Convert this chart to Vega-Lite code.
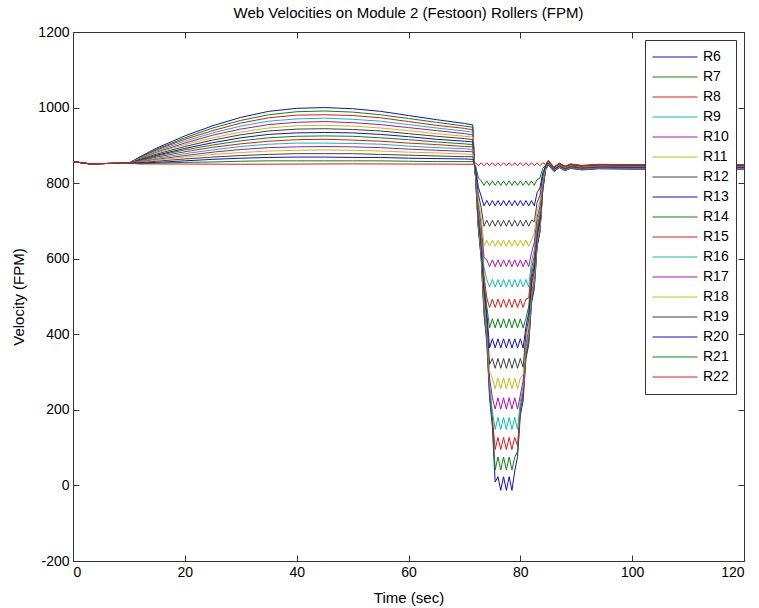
{
"$schema":"https://vega.github.io/schema/vega-lite/v6.json",
"width":671,"height":529,
"autosize":{"type":"none"},
"padding":{"left":73,"top":32,"right":15,"bottom":47},
"background":"white",
"config":{"font":"Liberation Sans","view":{"stroke":"#333","strokeWidth":1},
"axis":{"grid":false,"domain":false,"tickSize":-6,"tickColor":"#333","labelPadding":10,"labelFontSize":14,"labelColor":"black","titleFontSize":15,"titleFontWeight":"normal","titleColor":"black"}},
"title":{"text":"Web Velocities on Module 2 (Festoon) Rollers (FPM)","fontSize":15,"fontWeight":"normal","color":"black","anchor":"middle","offset":4},
"data":{"values":[
{"t":0,"k":"R6","v":857},{"t":3,"k":"R6","v":851},{"t":6,"k":"R6","v":852},{"t":10,"k":"R6","v":853},
{"t":12,"k":"R6","v":870},{"t":15,"k":"R6","v":893},{"t":20,"k":"R6","v":925},{"t":25,"k":"R6","v":952},{"t":30,"k":"R6","v":974},{"t":35,"k":"R6","v":990},{"t":40,"k":"R6","v":998},{"t":45,"k":"R6","v":1000},{"t":50,"k":"R6","v":997},{"t":55,"k":"R6","v":990},{"t":60,"k":"R6","v":979},{"t":65,"k":"R6","v":968},{"t":70,"k":"R6","v":958},{"t":71.5,"k":"R6","v":954},{"t":71.8,"k":"R6","v":850},
{"t":72,"k":"R6","v":814},{"t":72.5,"k":"R6","v":676},{"t":73,"k":"R6","v":601},{"t":73.5,"k":"R6","v":454},{"t":74,"k":"R6","v":379},{"t":74.5,"k":"R6","v":232},{"t":75,"k":"R6","v":156},{"t":75.5,"k":"R6","v":9},{"t":76,"k":"R6","v":23},{"t":76.5,"k":"R6","v":-13},{"t":77,"k":"R6","v":23},{"t":77.5,"k":"R6","v":-13},{"t":78,"k":"R6","v":23},{"t":78.5,"k":"R6","v":-13},{"t":79,"k":"R6","v":38},{"t":79.5,"k":"R6","v":76},{"t":80,"k":"R6","v":186},{"t":80.5,"k":"R6","v":224},{"t":81,"k":"R6","v":335},{"t":81.5,"k":"R6","v":373},{"t":82,"k":"R6","v":483},{"t":82.5,"k":"R6","v":521},{"t":83,"k":"R6","v":631},{"t":83.5,"k":"R6","v":669},{"t":84,"k":"R6","v":779},{"t":84.5,"k":"R6","v":835},
{"t":85,"k":"R6","v":848},{"t":86,"k":"R6","v":831},{"t":87,"k":"R6","v":841},{"t":88,"k":"R6","v":833},{"t":89,"k":"R6","v":839},{"t":91,"k":"R6","v":835},{"t":94,"k":"R6","v":838},{"t":100,"k":"R6","v":837},{"t":120,"k":"R6","v":837},

{"t":0,"k":"R7","v":857},{"t":3,"k":"R7","v":851},{"t":6,"k":"R7","v":852},{"t":10,"k":"R7","v":853},
{"t":12,"k":"R7","v":869},{"t":15,"k":"R7","v":890},{"t":20,"k":"R7","v":920},{"t":25,"k":"R7","v":946},{"t":30,"k":"R7","v":966},{"t":35,"k":"R7","v":981},{"t":40,"k":"R7","v":989},{"t":45,"k":"R7","v":991},{"t":50,"k":"R7","v":988},{"t":55,"k":"R7","v":981},{"t":60,"k":"R7","v":971},{"t":65,"k":"R7","v":961},{"t":70,"k":"R7","v":951},{"t":71.5,"k":"R7","v":948},{"t":71.8,"k":"R7","v":850},
{"t":72,"k":"R7","v":814},{"t":72.5,"k":"R7","v":680},{"t":73,"k":"R7","v":604},{"t":73.5,"k":"R7","v":461},{"t":74,"k":"R7","v":386},{"t":74.5,"k":"R7","v":242},{"t":75,"k":"R7","v":167},{"t":75.5,"k":"R7","v":41},{"t":76,"k":"R7","v":75},{"t":76.5,"k":"R7","v":41},{"t":77,"k":"R7","v":75},{"t":77.5,"k":"R7","v":41},{"t":78,"k":"R7","v":75},{"t":78.5,"k":"R7","v":41},{"t":79,"k":"R7","v":75},{"t":79.5,"k":"R7","v":90},{"t":80,"k":"R7","v":197},{"t":80.5,"k":"R7","v":236},{"t":81,"k":"R7","v":343},{"t":81.5,"k":"R7","v":382},{"t":82,"k":"R7","v":488},{"t":82.5,"k":"R7","v":527},{"t":83,"k":"R7","v":634},{"t":83.5,"k":"R7","v":673},{"t":84,"k":"R7","v":780},{"t":84.5,"k":"R7","v":835},
{"t":85,"k":"R7","v":849},{"t":86,"k":"R7","v":832},{"t":87,"k":"R7","v":842},{"t":88,"k":"R7","v":834},{"t":89,"k":"R7","v":840},{"t":91,"k":"R7","v":836},{"t":94,"k":"R7","v":839},{"t":100,"k":"R7","v":838},{"t":120,"k":"R7","v":838},

{"t":0,"k":"R8","v":857},{"t":3,"k":"R8","v":851},{"t":6,"k":"R8","v":852},{"t":10,"k":"R8","v":853},
{"t":12,"k":"R8","v":868},{"t":15,"k":"R8","v":888},{"t":20,"k":"R8","v":916},{"t":25,"k":"R8","v":939},{"t":30,"k":"R8","v":959},{"t":35,"k":"R8","v":973},{"t":40,"k":"R8","v":980},{"t":45,"k":"R8","v":981},{"t":50,"k":"R8","v":979},{"t":55,"k":"R8","v":973},{"t":60,"k":"R8","v":963},{"t":65,"k":"R8","v":953},{"t":70,"k":"R8","v":945},{"t":71.5,"k":"R8","v":941},{"t":71.8,"k":"R8","v":850},
{"t":72,"k":"R8","v":815},{"t":72.5,"k":"R8","v":684},{"t":73,"k":"R8","v":609},{"t":73.5,"k":"R8","v":470},{"t":74,"k":"R8","v":395},{"t":74.5,"k":"R8","v":256},{"t":75,"k":"R8","v":181},{"t":75.5,"k":"R8","v":95},{"t":76,"k":"R8","v":127},{"t":76.5,"k":"R8","v":95},{"t":77,"k":"R8","v":127},{"t":77.5,"k":"R8","v":95},{"t":78,"k":"R8","v":127},{"t":78.5,"k":"R8","v":95},{"t":79,"k":"R8","v":127},{"t":79.5,"k":"R8","v":105},{"t":80,"k":"R8","v":209},{"t":80.5,"k":"R8","v":248},{"t":81,"k":"R8","v":352},{"t":81.5,"k":"R8","v":391},{"t":82,"k":"R8","v":495},{"t":82.5,"k":"R8","v":534},{"t":83,"k":"R8","v":637},{"t":83.5,"k":"R8","v":677},{"t":84,"k":"R8","v":780},{"t":84.5,"k":"R8","v":836},
{"t":85,"k":"R8","v":850},{"t":86,"k":"R8","v":833},{"t":87,"k":"R8","v":843},{"t":88,"k":"R8","v":835},{"t":89,"k":"R8","v":841},{"t":91,"k":"R8","v":837},{"t":94,"k":"R8","v":840},{"t":100,"k":"R8","v":839},{"t":120,"k":"R8","v":839},

{"t":0,"k":"R9","v":857},{"t":3,"k":"R9","v":851},{"t":6,"k":"R9","v":852},{"t":10,"k":"R9","v":853},
{"t":12,"k":"R9","v":866},{"t":15,"k":"R9","v":885},{"t":20,"k":"R9","v":911},{"t":25,"k":"R9","v":933},{"t":30,"k":"R9","v":951},{"t":35,"k":"R9","v":964},{"t":40,"k":"R9","v":970},{"t":45,"k":"R9","v":972},{"t":50,"k":"R9","v":969},{"t":55,"k":"R9","v":964},{"t":60,"k":"R9","v":955},{"t":65,"k":"R9","v":946},{"t":70,"k":"R9","v":938},{"t":71.5,"k":"R9","v":935},{"t":71.8,"k":"R9","v":850},
{"t":72,"k":"R9","v":816},{"t":72.5,"k":"R9","v":687},{"t":73,"k":"R9","v":614},{"t":73.5,"k":"R9","v":477},{"t":74,"k":"R9","v":404},{"t":74.5,"k":"R9","v":268},{"t":75,"k":"R9","v":195},{"t":75.5,"k":"R9","v":148},{"t":76,"k":"R9","v":180},{"t":76.5,"k":"R9","v":148},{"t":77,"k":"R9","v":180},{"t":77.5,"k":"R9","v":148},{"t":78,"k":"R9","v":180},{"t":78.5,"k":"R9","v":148},{"t":79,"k":"R9","v":180},{"t":79.5,"k":"R9","v":148},{"t":80,"k":"R9","v":223},{"t":80.5,"k":"R9","v":261},{"t":81,"k":"R9","v":363},{"t":81.5,"k":"R9","v":401},{"t":82,"k":"R9","v":503},{"t":82.5,"k":"R9","v":541},{"t":83,"k":"R9","v":643},{"t":83.5,"k":"R9","v":680},{"t":84,"k":"R9","v":782},{"t":84.5,"k":"R9","v":836},
{"t":85,"k":"R9","v":850},{"t":86,"k":"R9","v":833},{"t":87,"k":"R9","v":843},{"t":88,"k":"R9","v":835},{"t":89,"k":"R9","v":841},{"t":91,"k":"R9","v":837},{"t":94,"k":"R9","v":840},{"t":100,"k":"R9","v":839},{"t":120,"k":"R9","v":839},

{"t":0,"k":"R10","v":857},{"t":3,"k":"R10","v":851},{"t":6,"k":"R10","v":852},{"t":10,"k":"R10","v":853},
{"t":12,"k":"R10","v":865},{"t":15,"k":"R10","v":882},{"t":20,"k":"R10","v":906},{"t":25,"k":"R10","v":927},{"t":30,"k":"R10","v":943},{"t":35,"k":"R10","v":955},{"t":40,"k":"R10","v":961},{"t":45,"k":"R10","v":963},{"t":50,"k":"R10","v":960},{"t":55,"k":"R10","v":955},{"t":60,"k":"R10","v":947},{"t":65,"k":"R10","v":939},{"t":70,"k":"R10","v":931},{"t":71.5,"k":"R10","v":928},{"t":71.8,"k":"R10","v":850},
{"t":72,"k":"R10","v":817},{"t":72.5,"k":"R10","v":692},{"t":73,"k":"R10","v":620},{"t":73.5,"k":"R10","v":488},{"t":74,"k":"R10","v":416},{"t":74.5,"k":"R10","v":284},{"t":75,"k":"R10","v":232},{"t":75.5,"k":"R10","v":202},{"t":76,"k":"R10","v":232},{"t":76.5,"k":"R10","v":202},{"t":77,"k":"R10","v":232},{"t":77.5,"k":"R10","v":202},{"t":78,"k":"R10","v":232},{"t":78.5,"k":"R10","v":202},{"t":79,"k":"R10","v":232},{"t":79.5,"k":"R10","v":202},{"t":80,"k":"R10","v":239},{"t":80.5,"k":"R10","v":277},{"t":81,"k":"R10","v":375},{"t":81.5,"k":"R10","v":413},{"t":82,"k":"R10","v":511},{"t":82.5,"k":"R10","v":549},{"t":83,"k":"R10","v":647},{"t":83.5,"k":"R10","v":685},{"t":84,"k":"R10","v":783},{"t":84.5,"k":"R10","v":836},
{"t":85,"k":"R10","v":851},{"t":86,"k":"R10","v":834},{"t":87,"k":"R10","v":844},{"t":88,"k":"R10","v":836},{"t":89,"k":"R10","v":842},{"t":91,"k":"R10","v":838},{"t":94,"k":"R10","v":841},{"t":100,"k":"R10","v":840},{"t":120,"k":"R10","v":840},

{"t":0,"k":"R11","v":857},{"t":3,"k":"R11","v":851},{"t":6,"k":"R11","v":852},{"t":10,"k":"R11","v":853},
{"t":12,"k":"R11","v":864},{"t":15,"k":"R11","v":880},{"t":20,"k":"R11","v":902},{"t":25,"k":"R11","v":920},{"t":30,"k":"R11","v":935},{"t":35,"k":"R11","v":946},{"t":40,"k":"R11","v":952},{"t":45,"k":"R11","v":953},{"t":50,"k":"R11","v":951},{"t":55,"k":"R11","v":946},{"t":60,"k":"R11","v":939},{"t":65,"k":"R11","v":931},{"t":70,"k":"R11","v":924},{"t":71.5,"k":"R11","v":922},{"t":71.8,"k":"R11","v":850},
{"t":72,"k":"R11","v":817},{"t":72.5,"k":"R11","v":697},{"t":73,"k":"R11","v":626},{"t":73.5,"k":"R11","v":498},{"t":74,"k":"R11","v":427},{"t":74.5,"k":"R11","v":300},{"t":75,"k":"R11","v":284},{"t":75.5,"k":"R11","v":256},{"t":76,"k":"R11","v":284},{"t":76.5,"k":"R11","v":256},{"t":77,"k":"R11","v":284},{"t":77.5,"k":"R11","v":256},{"t":78,"k":"R11","v":284},{"t":78.5,"k":"R11","v":256},{"t":79,"k":"R11","v":284},{"t":79.5,"k":"R11","v":256},{"t":80,"k":"R11","v":284},{"t":80.5,"k":"R11","v":293},{"t":81,"k":"R11","v":387},{"t":81.5,"k":"R11","v":426},{"t":82,"k":"R11","v":520},{"t":82.5,"k":"R11","v":558},{"t":83,"k":"R11","v":652},{"t":83.5,"k":"R11","v":690},{"t":84,"k":"R11","v":785},{"t":84.5,"k":"R11","v":837},
{"t":85,"k":"R11","v":852},{"t":86,"k":"R11","v":835},{"t":87,"k":"R11","v":845},{"t":88,"k":"R11","v":837},{"t":89,"k":"R11","v":843},{"t":91,"k":"R11","v":839},{"t":94,"k":"R11","v":842},{"t":100,"k":"R11","v":841},{"t":120,"k":"R11","v":841},

{"t":0,"k":"R12","v":857},{"t":3,"k":"R12","v":851},{"t":6,"k":"R12","v":852},{"t":10,"k":"R12","v":853},
{"t":12,"k":"R12","v":863},{"t":15,"k":"R12","v":877},{"t":20,"k":"R12","v":897},{"t":25,"k":"R12","v":914},{"t":30,"k":"R12","v":928},{"t":35,"k":"R12","v":938},{"t":40,"k":"R12","v":943},{"t":45,"k":"R12","v":944},{"t":50,"k":"R12","v":942},{"t":55,"k":"R12","v":938},{"t":60,"k":"R12","v":931},{"t":65,"k":"R12","v":924},{"t":70,"k":"R12","v":918},{"t":71.5,"k":"R12","v":915},{"t":71.8,"k":"R12","v":850},
{"t":72,"k":"R12","v":819},{"t":72.5,"k":"R12","v":703},{"t":73,"k":"R12","v":633},{"t":73.5,"k":"R12","v":511},{"t":74,"k":"R12","v":442},{"t":74.5,"k":"R12","v":320},{"t":75,"k":"R12","v":336},{"t":75.5,"k":"R12","v":310},{"t":76,"k":"R12","v":336},{"t":76.5,"k":"R12","v":310},{"t":77,"k":"R12","v":336},{"t":77.5,"k":"R12","v":310},{"t":78,"k":"R12","v":336},{"t":78.5,"k":"R12","v":310},{"t":79,"k":"R12","v":336},{"t":79.5,"k":"R12","v":310},{"t":80,"k":"R12","v":336},{"t":80.5,"k":"R12","v":313},{"t":81,"k":"R12","v":403},{"t":81.5,"k":"R12","v":441},{"t":82,"k":"R12","v":531},{"t":82.5,"k":"R12","v":568},{"t":83,"k":"R12","v":658},{"t":83.5,"k":"R12","v":696},{"t":84,"k":"R12","v":786},{"t":84.5,"k":"R12","v":837},
{"t":85,"k":"R12","v":853},{"t":86,"k":"R12","v":836},{"t":87,"k":"R12","v":846},{"t":88,"k":"R12","v":838},{"t":89,"k":"R12","v":844},{"t":91,"k":"R12","v":840},{"t":94,"k":"R12","v":843},{"t":100,"k":"R12","v":842},{"t":120,"k":"R12","v":842},

{"t":0,"k":"R13","v":857},{"t":3,"k":"R13","v":851},{"t":6,"k":"R13","v":852},{"t":10,"k":"R13","v":853},
{"t":12,"k":"R13","v":861},{"t":15,"k":"R13","v":874},{"t":20,"k":"R13","v":892},{"t":25,"k":"R13","v":907},{"t":30,"k":"R13","v":920},{"t":35,"k":"R13","v":929},{"t":40,"k":"R13","v":933},{"t":45,"k":"R13","v":934},{"t":50,"k":"R13","v":933},{"t":55,"k":"R13","v":929},{"t":60,"k":"R13","v":923},{"t":65,"k":"R13","v":916},{"t":70,"k":"R13","v":911},{"t":71.5,"k":"R13","v":909},{"t":71.8,"k":"R13","v":850},
{"t":72,"k":"R13","v":819},{"t":72.5,"k":"R13","v":709},{"t":73,"k":"R13","v":641},{"t":73.5,"k":"R13","v":525},{"t":74,"k":"R13","v":456},{"t":74.5,"k":"R13","v":364},{"t":75,"k":"R13","v":388},{"t":75.5,"k":"R13","v":364},{"t":76,"k":"R13","v":388},{"t":76.5,"k":"R13","v":364},{"t":77,"k":"R13","v":388},{"t":77.5,"k":"R13","v":364},{"t":78,"k":"R13","v":388},{"t":78.5,"k":"R13","v":364},{"t":79,"k":"R13","v":388},{"t":79.5,"k":"R13","v":364},{"t":80,"k":"R13","v":388},{"t":80.5,"k":"R13","v":364},{"t":81,"k":"R13","v":420},{"t":81.5,"k":"R13","v":457},{"t":82,"k":"R13","v":543},{"t":82.5,"k":"R13","v":580},{"t":83,"k":"R13","v":666},{"t":83.5,"k":"R13","v":703},{"t":84,"k":"R13","v":788},{"t":84.5,"k":"R13","v":838},
{"t":85,"k":"R13","v":853},{"t":86,"k":"R13","v":836},{"t":87,"k":"R13","v":846},{"t":88,"k":"R13","v":838},{"t":89,"k":"R13","v":844},{"t":91,"k":"R13","v":840},{"t":94,"k":"R13","v":843},{"t":100,"k":"R13","v":842},{"t":120,"k":"R13","v":842},

{"t":0,"k":"R14","v":857},{"t":3,"k":"R14","v":851},{"t":6,"k":"R14","v":852},{"t":10,"k":"R14","v":853},
{"t":12,"k":"R14","v":860},{"t":15,"k":"R14","v":872},{"t":20,"k":"R14","v":888},{"t":25,"k":"R14","v":901},{"t":30,"k":"R14","v":912},{"t":35,"k":"R14","v":920},{"t":40,"k":"R14","v":924},{"t":45,"k":"R14","v":925},{"t":50,"k":"R14","v":924},{"t":55,"k":"R14","v":920},{"t":60,"k":"R14","v":915},{"t":65,"k":"R14","v":909},{"t":70,"k":"R14","v":904},{"t":71.5,"k":"R14","v":902},{"t":71.8,"k":"R14","v":850},
{"t":72,"k":"R14","v":821},{"t":72.5,"k":"R14","v":715},{"t":73,"k":"R14","v":651},{"t":73.5,"k":"R14","v":539},{"t":74,"k":"R14","v":474},{"t":74.5,"k":"R14","v":417},{"t":75,"k":"R14","v":441},{"t":75.5,"k":"R14","v":417},{"t":76,"k":"R14","v":441},{"t":76.5,"k":"R14","v":417},{"t":77,"k":"R14","v":441},{"t":77.5,"k":"R14","v":417},{"t":78,"k":"R14","v":441},{"t":78.5,"k":"R14","v":417},{"t":79,"k":"R14","v":441},{"t":79.5,"k":"R14","v":417},{"t":80,"k":"R14","v":441},{"t":80.5,"k":"R14","v":417},{"t":81,"k":"R14","v":441},{"t":81.5,"k":"R14","v":474},{"t":82,"k":"R14","v":557},{"t":82.5,"k":"R14","v":592},{"t":83,"k":"R14","v":674},{"t":83.5,"k":"R14","v":709},{"t":84,"k":"R14","v":792},{"t":84.5,"k":"R14","v":838},
{"t":85,"k":"R14","v":854},{"t":86,"k":"R14","v":837},{"t":87,"k":"R14","v":847},{"t":88,"k":"R14","v":839},{"t":89,"k":"R14","v":845},{"t":91,"k":"R14","v":841},{"t":94,"k":"R14","v":844},{"t":100,"k":"R14","v":843},{"t":120,"k":"R14","v":843},

{"t":0,"k":"R15","v":857},{"t":3,"k":"R15","v":851},{"t":6,"k":"R15","v":852},{"t":10,"k":"R15","v":853},
{"t":12,"k":"R15","v":859},{"t":15,"k":"R15","v":869},{"t":20,"k":"R15","v":883},{"t":25,"k":"R15","v":895},{"t":30,"k":"R15","v":904},{"t":35,"k":"R15","v":911},{"t":40,"k":"R15","v":915},{"t":45,"k":"R15","v":916},{"t":50,"k":"R15","v":914},{"t":55,"k":"R15","v":911},{"t":60,"k":"R15","v":906},{"t":65,"k":"R15","v":902},{"t":70,"k":"R15","v":897},{"t":71.5,"k":"R15","v":896},{"t":71.8,"k":"R15","v":850},
{"t":72,"k":"R15","v":823},{"t":72.5,"k":"R15","v":723},{"t":73,"k":"R15","v":662},{"t":73.5,"k":"R15","v":557},{"t":74,"k":"R15","v":496},{"t":74.5,"k":"R15","v":471},{"t":75,"k":"R15","v":493},{"t":75.5,"k":"R15","v":471},{"t":76,"k":"R15","v":493},{"t":76.5,"k":"R15","v":471},{"t":77,"k":"R15","v":493},{"t":77.5,"k":"R15","v":471},{"t":78,"k":"R15","v":493},{"t":78.5,"k":"R15","v":471},{"t":79,"k":"R15","v":493},{"t":79.5,"k":"R15","v":471},{"t":80,"k":"R15","v":493},{"t":80.5,"k":"R15","v":471},{"t":81,"k":"R15","v":493},{"t":81.5,"k":"R15","v":496},{"t":82,"k":"R15","v":574},{"t":82.5,"k":"R15","v":607},{"t":83,"k":"R15","v":684},{"t":83.5,"k":"R15","v":717},{"t":84,"k":"R15","v":795},{"t":84.5,"k":"R15","v":839},
{"t":85,"k":"R15","v":855},{"t":86,"k":"R15","v":838},{"t":87,"k":"R15","v":848},{"t":88,"k":"R15","v":840},{"t":89,"k":"R15","v":846},{"t":91,"k":"R15","v":842},{"t":94,"k":"R15","v":845},{"t":100,"k":"R15","v":844},{"t":120,"k":"R15","v":844},

{"t":0,"k":"R16","v":857},{"t":3,"k":"R16","v":851},{"t":6,"k":"R16","v":852},{"t":10,"k":"R16","v":853},
{"t":12,"k":"R16","v":858},{"t":15,"k":"R16","v":866},{"t":20,"k":"R16","v":878},{"t":25,"k":"R16","v":888},{"t":30,"k":"R16","v":897},{"t":35,"k":"R16","v":903},{"t":40,"k":"R16","v":906},{"t":45,"k":"R16","v":906},{"t":50,"k":"R16","v":905},{"t":55,"k":"R16","v":903},{"t":60,"k":"R16","v":898},{"t":65,"k":"R16","v":894},{"t":70,"k":"R16","v":891},{"t":71.5,"k":"R16","v":889},{"t":71.8,"k":"R16","v":850},
{"t":72,"k":"R16","v":824},{"t":72.5,"k":"R16","v":732},{"t":73,"k":"R16","v":675},{"t":73.5,"k":"R16","v":578},{"t":74,"k":"R16","v":545},{"t":74.5,"k":"R16","v":525},{"t":75,"k":"R16","v":545},{"t":75.5,"k":"R16","v":525},{"t":76,"k":"R16","v":545},{"t":76.5,"k":"R16","v":525},{"t":77,"k":"R16","v":545},{"t":77.5,"k":"R16","v":525},{"t":78,"k":"R16","v":545},{"t":78.5,"k":"R16","v":525},{"t":79,"k":"R16","v":545},{"t":79.5,"k":"R16","v":525},{"t":80,"k":"R16","v":545},{"t":80.5,"k":"R16","v":525},{"t":81,"k":"R16","v":545},{"t":81.5,"k":"R16","v":525},{"t":82,"k":"R16","v":593},{"t":82.5,"k":"R16","v":625},{"t":83,"k":"R16","v":696},{"t":83.5,"k":"R16","v":727},{"t":84,"k":"R16","v":798},{"t":84.5,"k":"R16","v":840},
{"t":85,"k":"R16","v":856},{"t":86,"k":"R16","v":839},{"t":87,"k":"R16","v":849},{"t":88,"k":"R16","v":841},{"t":89,"k":"R16","v":847},{"t":91,"k":"R16","v":843},{"t":94,"k":"R16","v":846},{"t":100,"k":"R16","v":845},{"t":120,"k":"R16","v":845},

{"t":0,"k":"R17","v":857},{"t":3,"k":"R17","v":851},{"t":6,"k":"R17","v":852},{"t":10,"k":"R17","v":853},
{"t":12,"k":"R17","v":856},{"t":15,"k":"R17","v":863},{"t":20,"k":"R17","v":873},{"t":25,"k":"R17","v":882},{"t":30,"k":"R17","v":889},{"t":35,"k":"R17","v":894},{"t":40,"k":"R17","v":896},{"t":45,"k":"R17","v":897},{"t":50,"k":"R17","v":896},{"t":55,"k":"R17","v":894},{"t":60,"k":"R17","v":890},{"t":65,"k":"R17","v":887},{"t":70,"k":"R17","v":884},{"t":71.5,"k":"R17","v":883},{"t":71.8,"k":"R17","v":850},
{"t":72,"k":"R17","v":827},{"t":72.5,"k":"R17","v":743},{"t":73,"k":"R17","v":691},{"t":73.5,"k":"R17","v":603},{"t":74,"k":"R17","v":597},{"t":74.5,"k":"R17","v":579},{"t":75,"k":"R17","v":597},{"t":75.5,"k":"R17","v":579},{"t":76,"k":"R17","v":597},{"t":76.5,"k":"R17","v":579},{"t":77,"k":"R17","v":597},{"t":77.5,"k":"R17","v":579},{"t":78,"k":"R17","v":597},{"t":78.5,"k":"R17","v":579},{"t":79,"k":"R17","v":597},{"t":79.5,"k":"R17","v":579},{"t":80,"k":"R17","v":597},{"t":80.5,"k":"R17","v":579},{"t":81,"k":"R17","v":597},{"t":81.5,"k":"R17","v":579},{"t":82,"k":"R17","v":616},{"t":82.5,"k":"R17","v":644},{"t":83,"k":"R17","v":709},{"t":83.5,"k":"R17","v":738},{"t":84,"k":"R17","v":803},{"t":84.5,"k":"R17","v":841},
{"t":85,"k":"R17","v":856},{"t":86,"k":"R17","v":839},{"t":87,"k":"R17","v":849},{"t":88,"k":"R17","v":841},{"t":89,"k":"R17","v":847},{"t":91,"k":"R17","v":843},{"t":94,"k":"R17","v":846},{"t":100,"k":"R17","v":845},{"t":120,"k":"R17","v":845},

{"t":0,"k":"R18","v":857},{"t":3,"k":"R18","v":851},{"t":6,"k":"R18","v":852},{"t":10,"k":"R18","v":853},
{"t":12,"k":"R18","v":855},{"t":15,"k":"R18","v":861},{"t":20,"k":"R18","v":869},{"t":25,"k":"R18","v":876},{"t":30,"k":"R18","v":881},{"t":35,"k":"R18","v":885},{"t":40,"k":"R18","v":887},{"t":45,"k":"R18","v":888},{"t":50,"k":"R18","v":887},{"t":55,"k":"R18","v":885},{"t":60,"k":"R18","v":882},{"t":65,"k":"R18","v":880},{"t":70,"k":"R18","v":877},{"t":71.5,"k":"R18","v":876},{"t":71.8,"k":"R18","v":850},
{"t":72,"k":"R18","v":829},{"t":72.5,"k":"R18","v":755},{"t":73,"k":"R18","v":710},{"t":73.5,"k":"R18","v":633},{"t":74,"k":"R18","v":649},{"t":74.5,"k":"R18","v":633},{"t":75,"k":"R18","v":649},{"t":75.5,"k":"R18","v":633},{"t":76,"k":"R18","v":649},{"t":76.5,"k":"R18","v":633},{"t":77,"k":"R18","v":649},{"t":77.5,"k":"R18","v":633},{"t":78,"k":"R18","v":649},{"t":78.5,"k":"R18","v":633},{"t":79,"k":"R18","v":649},{"t":79.5,"k":"R18","v":633},{"t":80,"k":"R18","v":649},{"t":80.5,"k":"R18","v":633},{"t":81,"k":"R18","v":649},{"t":81.5,"k":"R18","v":633},{"t":82,"k":"R18","v":649},{"t":82.5,"k":"R18","v":669},{"t":83,"k":"R18","v":726},{"t":83.5,"k":"R18","v":752},{"t":84,"k":"R18","v":809},{"t":84.5,"k":"R18","v":842},
{"t":85,"k":"R18","v":857},{"t":86,"k":"R18","v":840},{"t":87,"k":"R18","v":850},{"t":88,"k":"R18","v":842},{"t":89,"k":"R18","v":848},{"t":91,"k":"R18","v":844},{"t":94,"k":"R18","v":847},{"t":100,"k":"R18","v":846},{"t":120,"k":"R18","v":846},

{"t":0,"k":"R19","v":857},{"t":3,"k":"R19","v":851},{"t":6,"k":"R19","v":852},{"t":10,"k":"R19","v":853},
{"t":12,"k":"R19","v":854},{"t":15,"k":"R19","v":858},{"t":20,"k":"R19","v":864},{"t":25,"k":"R19","v":869},{"t":30,"k":"R19","v":873},{"t":35,"k":"R19","v":876},{"t":40,"k":"R19","v":878},{"t":45,"k":"R19","v":878},{"t":50,"k":"R19","v":878},{"t":55,"k":"R19","v":876},{"t":60,"k":"R19","v":874},{"t":65,"k":"R19","v":872},{"t":70,"k":"R19","v":870},{"t":71.5,"k":"R19","v":870},{"t":71.8,"k":"R19","v":850},
{"t":72,"k":"R19","v":834},{"t":72.5,"k":"R19","v":770},{"t":73,"k":"R19","v":735},{"t":73.5,"k":"R19","v":686},{"t":74,"k":"R19","v":702},{"t":74.5,"k":"R19","v":686},{"t":75,"k":"R19","v":702},{"t":75.5,"k":"R19","v":686},{"t":76,"k":"R19","v":702},{"t":76.5,"k":"R19","v":686},{"t":77,"k":"R19","v":702},{"t":77.5,"k":"R19","v":686},{"t":78,"k":"R19","v":702},{"t":78.5,"k":"R19","v":686},{"t":79,"k":"R19","v":702},{"t":79.5,"k":"R19","v":686},{"t":80,"k":"R19","v":702},{"t":80.5,"k":"R19","v":686},{"t":81,"k":"R19","v":702},{"t":81.5,"k":"R19","v":686},{"t":82,"k":"R19","v":702},{"t":82.5,"k":"R19","v":698},{"t":83,"k":"R19","v":749},{"t":83.5,"k":"R19","v":767},{"t":84,"k":"R19","v":817},{"t":84.5,"k":"R19","v":843},
{"t":85,"k":"R19","v":858},{"t":86,"k":"R19","v":841},{"t":87,"k":"R19","v":851},{"t":88,"k":"R19","v":843},{"t":89,"k":"R19","v":849},{"t":91,"k":"R19","v":845},{"t":94,"k":"R19","v":848},{"t":100,"k":"R19","v":847},{"t":120,"k":"R19","v":847},

{"t":0,"k":"R20","v":857},{"t":3,"k":"R20","v":851},{"t":6,"k":"R20","v":852},{"t":10,"k":"R20","v":853},
{"t":12,"k":"R20","v":853},{"t":15,"k":"R20","v":855},{"t":20,"k":"R20","v":859},{"t":25,"k":"R20","v":863},{"t":30,"k":"R20","v":866},{"t":35,"k":"R20","v":868},{"t":40,"k":"R20","v":869},{"t":45,"k":"R20","v":869},{"t":50,"k":"R20","v":868},{"t":55,"k":"R20","v":868},{"t":60,"k":"R20","v":866},{"t":65,"k":"R20","v":865},{"t":70,"k":"R20","v":864},{"t":71.5,"k":"R20","v":863},{"t":71.8,"k":"R20","v":850},
{"t":72,"k":"R20","v":839},{"t":72.5,"k":"R20","v":789},{"t":73,"k":"R20","v":765},{"t":73.5,"k":"R20","v":740},{"t":74,"k":"R20","v":754},{"t":74.5,"k":"R20","v":740},{"t":75,"k":"R20","v":754},{"t":75.5,"k":"R20","v":740},{"t":76,"k":"R20","v":754},{"t":76.5,"k":"R20","v":740},{"t":77,"k":"R20","v":754},{"t":77.5,"k":"R20","v":740},{"t":78,"k":"R20","v":754},{"t":78.5,"k":"R20","v":740},{"t":79,"k":"R20","v":754},{"t":79.5,"k":"R20","v":740},{"t":80,"k":"R20","v":754},{"t":80.5,"k":"R20","v":740},{"t":81,"k":"R20","v":754},{"t":81.5,"k":"R20","v":740},{"t":82,"k":"R20","v":754},{"t":82.5,"k":"R20","v":740},{"t":83,"k":"R20","v":775},{"t":83.5,"k":"R20","v":787},{"t":84,"k":"R20","v":826},{"t":84.5,"k":"R20","v":845},
{"t":85,"k":"R20","v":859},{"t":86,"k":"R20","v":842},{"t":87,"k":"R20","v":852},{"t":88,"k":"R20","v":844},{"t":89,"k":"R20","v":850},{"t":91,"k":"R20","v":846},{"t":94,"k":"R20","v":849},{"t":100,"k":"R20","v":848},{"t":120,"k":"R20","v":848},

{"t":0,"k":"R21","v":857},{"t":3,"k":"R21","v":851},{"t":6,"k":"R21","v":852},{"t":10,"k":"R21","v":853},
{"t":12,"k":"R21","v":851},{"t":15,"k":"R21","v":853},{"t":20,"k":"R21","v":855},{"t":25,"k":"R21","v":856},{"t":30,"k":"R21","v":858},{"t":35,"k":"R21","v":859},{"t":40,"k":"R21","v":859},{"t":45,"k":"R21","v":859},{"t":50,"k":"R21","v":859},{"t":55,"k":"R21","v":859},{"t":60,"k":"R21","v":858},{"t":65,"k":"R21","v":857},{"t":70,"k":"R21","v":857},{"t":71.5,"k":"R21","v":857},{"t":71.8,"k":"R21","v":850},
{"t":72,"k":"R21","v":845},{"t":72.5,"k":"R21","v":814},{"t":73,"k":"R21","v":806},{"t":73.5,"k":"R21","v":794},{"t":74,"k":"R21","v":806},{"t":74.5,"k":"R21","v":794},{"t":75,"k":"R21","v":806},{"t":75.5,"k":"R21","v":794},{"t":76,"k":"R21","v":806},{"t":76.5,"k":"R21","v":794},{"t":77,"k":"R21","v":806},{"t":77.5,"k":"R21","v":794},{"t":78,"k":"R21","v":806},{"t":78.5,"k":"R21","v":794},{"t":79,"k":"R21","v":806},{"t":79.5,"k":"R21","v":794},{"t":80,"k":"R21","v":806},{"t":80.5,"k":"R21","v":794},{"t":81,"k":"R21","v":806},{"t":81.5,"k":"R21","v":794},{"t":82,"k":"R21","v":806},{"t":82.5,"k":"R21","v":794},{"t":83,"k":"R21","v":810},{"t":83.5,"k":"R21","v":813},{"t":84,"k":"R21","v":839},{"t":84.5,"k":"R21","v":847},
{"t":85,"k":"R21","v":859},{"t":86,"k":"R21","v":842},{"t":87,"k":"R21","v":852},{"t":88,"k":"R21","v":844},{"t":89,"k":"R21","v":850},{"t":91,"k":"R21","v":846},{"t":94,"k":"R21","v":849},{"t":100,"k":"R21","v":848},{"t":120,"k":"R21","v":848},

{"t":0,"k":"R22","v":857},{"t":3,"k":"R22","v":851},{"t":6,"k":"R22","v":852},{"t":10,"k":"R22","v":853},
{"t":12,"k":"R22","v":851},{"t":30,"k":"R22","v":850},{"t":50,"k":"R22","v":851},{"t":71.8,"k":"R22","v":850},
{"t":72,"k":"R22","v":854},{"t":72.5,"k":"R22","v":846},{"t":73,"k":"R22","v":854},{"t":73.5,"k":"R22","v":846},{"t":74,"k":"R22","v":854},{"t":74.5,"k":"R22","v":846},{"t":75,"k":"R22","v":854},{"t":75.5,"k":"R22","v":846},{"t":76,"k":"R22","v":854},{"t":76.5,"k":"R22","v":846},{"t":77,"k":"R22","v":854},{"t":77.5,"k":"R22","v":846},{"t":78,"k":"R22","v":854},{"t":78.5,"k":"R22","v":846},{"t":79,"k":"R22","v":854},{"t":79.5,"k":"R22","v":846},{"t":80,"k":"R22","v":854},{"t":80.5,"k":"R22","v":846},{"t":81,"k":"R22","v":854},{"t":81.5,"k":"R22","v":846},{"t":82,"k":"R22","v":854},{"t":82.5,"k":"R22","v":846},{"t":83,"k":"R22","v":854},{"t":83.5,"k":"R22","v":846},{"t":84,"k":"R22","v":854},{"t":84.5,"k":"R22","v":850},
{"t":85,"k":"R22","v":860},{"t":86,"k":"R22","v":843},{"t":87,"k":"R22","v":853},{"t":88,"k":"R22","v":845},{"t":89,"k":"R22","v":851},{"t":91,"k":"R22","v":847},{"t":94,"k":"R22","v":850},{"t":100,"k":"R22","v":849},{"t":120,"k":"R22","v":849}
]},
"layer":[
{"mark":{"type":"line","strokeWidth":1,"clip":true},
"encoding":{
"x":{"field":"t","type":"quantitative","scale":{"domain":[0,120],"nice":false,"zero":false},"axis":{"orient":"bottom","values":[0,20,40,60,80,100,120],"labelExpr":"''+datum.value","title":"Time (sec)","titleY":36,"titleBaseline":"middle"}},
"y":{"field":"v","type":"quantitative","scale":{"domain":[-200,1200],"nice":false,"zero":false},"axis":{"orient":"left","values":[-200,0,200,400,600,800,1000,1200],"labelExpr":"''+datum.value","title":"Velocity (FPM)","titleX":-55,"titleY":264.5,"titleBaseline":"middle","titleAlign":"center","titleAngle":-90}},
"color":{"field":"k","type":"nominal","scale":{"domain":["R6","R7","R8","R9","R10","R11","R12","R13","R14","R15","R16","R17","R18","R19","R20","R21","R22"],"range":["#1010c0","#108010","#e01818","#10b8b8","#b010b0","#c0c010","#404040","#1010c0","#108010","#e01818","#10b8b8","#b010b0","#c0c010","#404040","#1010c0","#108010","#e01818"]},
"legend":{"orient":"none","legendX":572,"legendY":8,"title":null,"symbolType":"stroke","symbolSize":2025,"symbolStrokeWidth":1,"labelFontSize":14,"labelColor":"black","labelOffset":5,"padding":7,"strokeColor":"#333","fillColor":"white","rowPadding":0,"clipHeight":20}}
}},
{"data":{"values":[{"t":0,"v":0}]},
"mark":{"type":"point","opacity":0},
"encoding":{
"x":{"field":"t","type":"quantitative","axis":{"orient":"top","values":[0,20,40,60,80,100,120],"labels":false,"title":null}},
"y":{"field":"v","type":"quantitative","axis":{"orient":"right","values":[-200,0,200,400,600,800,1000,1200],"labels":false,"title":null}}
}}
],
"resolve":{"axis":{"x":"independent","y":"independent"}}
}
